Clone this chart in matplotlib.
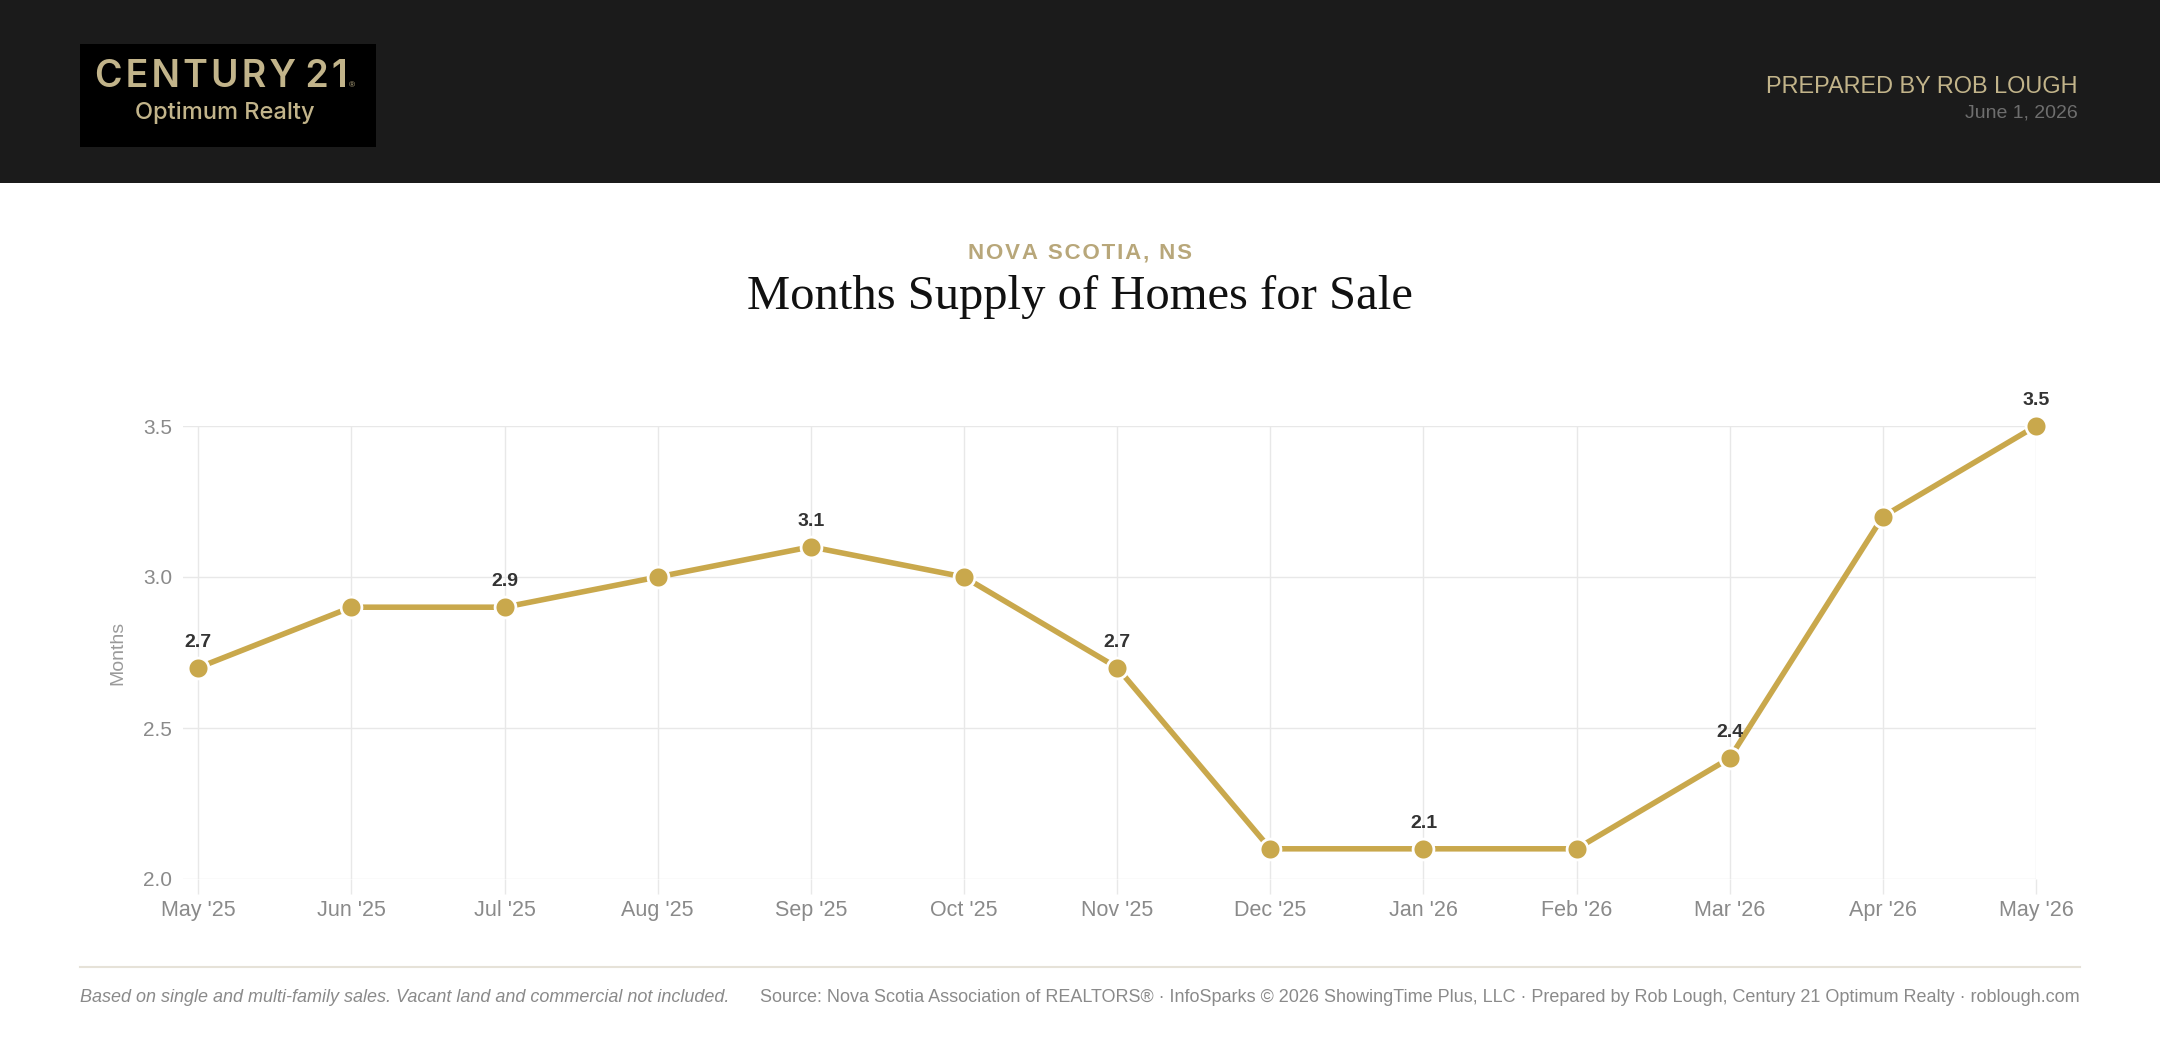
import matplotlib
matplotlib.use("Agg")
import matplotlib.pyplot as plt
from matplotlib.patches import Rectangle
from matplotlib.lines import Line2D

W, H = 2160, 1048
DPI = 100

months = ["May '25", "Jun '25", "Jul '25", "Aug '25", "Sep '25", "Oct '25", "Nov '25",
          "Dec '25", "Jan '26", "Feb '26", "Mar '26", "Apr '26", "May '26"]
supply = [2.7, 2.9, 2.9, 3.0, 3.1, 3.0, 2.7, 2.1, 2.1, 2.1, 2.4, 3.2, 3.5]
labelled = [0, 2, 4, 6, 8, 10, 12]
y_ticks = [2.0, 2.5, 3.0, 3.5]

GOLD = "#c9a84c"
TAN = "#c2b48a"
HAIR = "\u200a"

plt.rcParams["font.family"] = ["Liberation Sans", "DejaVu Sans"]


def fx(x):
    return x / W


def fy(y):
    return 1 - y / H


fig = plt.figure(figsize=(W / DPI, H / DPI), dpi=DPI, facecolor="white")

# header band + logo
fig.add_artist(Rectangle((0, fy(183)), 1, 183 / H, transform=fig.transFigure,
                         facecolor="#1b1b1b", edgecolor="none", zorder=0))
fig.add_artist(Rectangle((fx(80), fy(147)), (376 - 80) / W, (147 - 44) / H,
                         transform=fig.transFigure, facecolor="#000000",
                         edgecolor="none", zorder=1))
logo = HAIR.join("CENTURY") + HAIR * 3 + HAIR.join("21")
fig.text(fx(221), fy(87), logo, family="Inter",
         weight="semibold", fontsize=27, color=TAN, ha="center", va="baseline", zorder=2)
fig.text(fx(349), fy(87), "®", fontsize=6, color=TAN, ha="left", va="baseline", zorder=2)
fig.text(fx(225), fy(119), "Optimum Realty", family="Inter", weight="medium",
         fontsize=17, color=TAN, ha="center", va="baseline", zorder=2)

fig.text(fx(2078), fy(93), "PREPARED BY ROB LOUGH", fontsize=16.9, color=TAN,
         ha="right", va="baseline")
fig.text(fx(2078), fy(118), "June 1, 2026", fontsize=14, color="#6e6e6e",
         ha="right", va="baseline")

# titles
fig.text(0.5, fy(253), HAIR.join("NOVA SCOTIA, NS"), fontsize=16,
         weight="bold", color="#b8a77a", ha="center", va="center")
fig.text(0.5, fy(297), "Months Supply of Homes for Sale", family="Liberation Serif",
         fontsize=35, color="#111111", ha="center", va="center")

# chart
ax = fig.add_axes([fx(183), fy(879), (2036 - 183) / W, (879 - 426) / H])
x = list(range(len(months)))
ax.plot(x, supply, color=GOLD, lw=4, marker="o", ms=15, mfc=GOLD,
        mec="white", mew=2, zorder=3, clip_on=False)
for i in labelled:
    ax.annotate(f"{supply[i]:.1f}", (x[i], supply[i]), xytext=(0, 17),
                textcoords="offset pixels", ha="center", va="bottom",
                weight="bold", fontsize=14, color="#333333", zorder=4)

ax.set_xlim(-0.1, len(months) - 1)
ax.set_ylim(2.0, 3.5)
ax.set_xticks(x)
ax.set_xticklabels(months)
ax.set_yticks(y_ticks)
ax.set_yticklabels([f"{v:.1f}" for v in y_ticks])
ax.grid(True, color="#e8e8e8", lw=1)
ax.set_axisbelow(True)
for s in ax.spines.values():
    s.set_visible(False)
ax.tick_params(axis="x", length=11, color="#e8e8e8", width=1, pad=4,
               labelsize=15.5, labelcolor="#8a8a8a")
ax.tick_params(axis="y", length=0, pad=8, labelsize=15, labelcolor="#8a8a8a")
ax.set_ylabel("Months", fontsize=14, color="#9a9a9a", labelpad=12)

# footer
fig.add_artist(Line2D([fx(80), fx(2080)], [fy(967), fy(967)], transform=fig.transFigure,
                      color="#e6e2d8", lw=1.5))
fig.text(fx(80), fy(997), "Based on single and multi-family sales. Vacant land and commercial not included.",
         style="italic", fontsize=13, color="#8a8a8a", ha="left", va="center")
fig.text(fx(2080), fy(997),
         "Source: Nova Scotia Association of REALTORS® · InfoSparks © 2026 ShowingTime Plus, LLC · "
         "Prepared by Rob Lough, Century 21 Optimum Realty · roblough.com",
         fontsize=13, color="#8a8a8a", ha="right", va="center")

fig.savefig("out.png", dpi=DPI, facecolor="white")
plt.close(fig)
